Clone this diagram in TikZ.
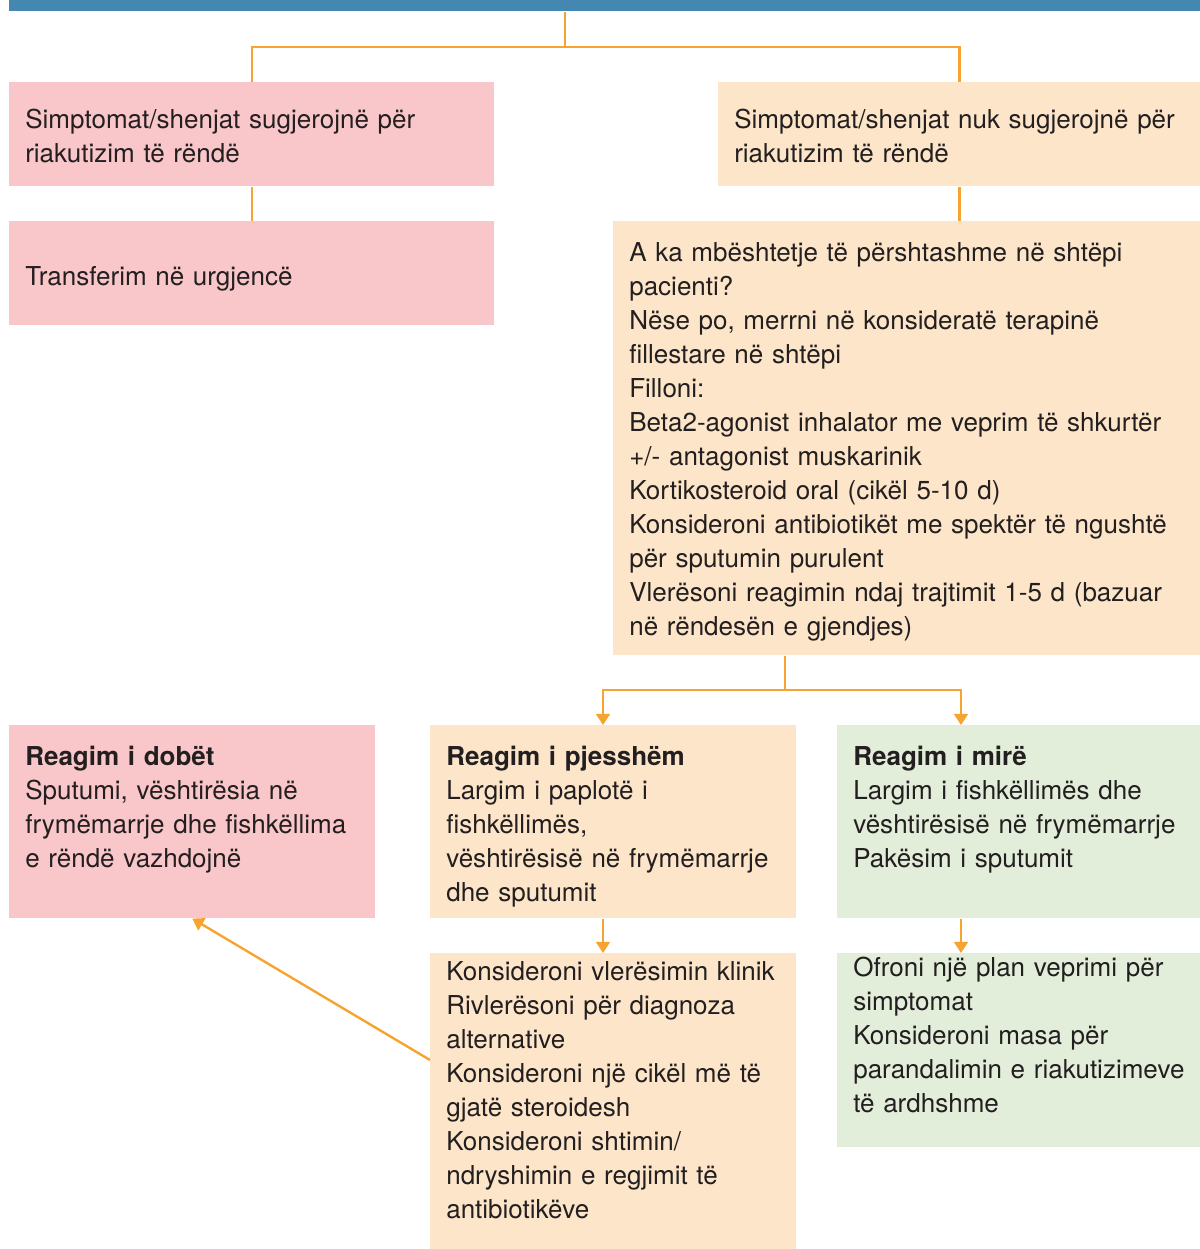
\documentclass[tikz,border=0pt]{standalone}
\usepackage{fontspec}
\setmainfont{TeX Gyre Heros}
\usetikzlibrary{arrows.meta,calc}
\definecolor{barblue}{HTML}{4488B2}
\definecolor{severepink}{HTML}{F9C6C9}
\definecolor{mildpeach}{HTML}{FCE5C8}
\definecolor{goodgreen}{HTML}{E2EED9}
\definecolor{linkorange}{HTML}{F7A32F}
\definecolor{textdark}{HTML}{231F20}
\newcommand\boxfont{\fontsize{18.5}{24.2}\selectfont\hyphenpenalty=10000}

\begin{document}
\begin{tikzpicture}[
  x=0.025cm,y=-0.025cm,
  link/.style={draw=linkorange,line width=1.7pt},
  flow/.style={link,-{Triangle[width=10pt,length=8pt]}},
  ]
  \useasboundingbox (0,0) rectangle (1200,1249);
  \node[fill=barblue,anchor=north west,inner sep=0,
    minimum width=29.775cm,minimum height=0.275cm] (bar) at (9,0) {};
  \begin{scope}[
    every node/.style={
      anchor=north west,
      align=left,
      inner xsep=0.4cm,
      inner ysep=0pt,
      font=\boxfont,
      text=textdark,
    },
    ]
    \node[fill=severepink,text width=11.325cm,text height=1.15cm,text depth=1.45cm]
      (severe) at (9,82) {Simptomat/shenjat sugjerojnë për\\riakutizim të rëndë};
    \node[fill=mildpeach,text width=11.25cm,text height=1.15cm,text depth=1.45cm]
      (mild) at (718,82) {Simptomat/shenjat nuk sugjerojnë për\\riakutizim të rëndë};
    \node[fill=severepink,text width=11.325cm,text height=1.6cm,text depth=1.0cm]
      (transfer) at (9,221) {Transferim në urgjencë};
    \node[fill=mildpeach,text width=13.875cm,text height=1.0cm,text depth=9.85cm]
      (homecare) at (613,221) {A ka mbështetje të përshtashme në shtëpi\\
        pacienti?\\
        Nëse po, merrni në konsideratë terapinë\\
        fillestare në shtëpi\\
        Filloni:\\
        Beta2-agonist inhalator me veprim të shkurtër\\
        +/- antagonist muskarinik\\
        Kortikosteroid oral (cikël 5-10 d)\\
        Konsideroni antibiotikët me spektër të ngushtë\\
        për sputumin purulent\\
        Vlerësoni reagimin ndaj trajtimit 1-5 d (bazuar\\
        në rëndesën e gjendjes)};
    \node[fill=severepink,text width=8.35cm,text height=1.0cm,text depth=3.825cm]
      (poor) at (9,725) {\textbf{Reagim i dobët}\\Sputumi, vështirësia në\\
        frymëmarrje dhe fishkëllima\\e rëndë vazhdojnë};
    \node[fill=mildpeach,text width=8.35cm,text height=1.0cm,text depth=3.825cm]
      (partial) at (430,725) {\textbf{Reagim i pjesshëm}\\Largim i paplotë i\\
        fishkëllimës,\\vështirësisë në frymëmarrje\\dhe sputumit};
    \node[fill=goodgreen,text width=8.4cm,text height=1.0cm,text depth=3.825cm]
      (good) at (837,725) {\textbf{Reagim i mirë}\\Largim i fishkëllimës dhe\\
        vështirësisë në frymëmarrje\\Pakësim i sputumit};
    \node[fill=mildpeach,text width=8.35cm,text height=0.675cm,text depth=6.725cm]
      (review) at (430,953) {Konsideroni vlerësimin klinik\\Rivlerësoni për diagnoza\\
        alternative\\Konsideroni një cikël më të\\gjatë steroidesh\\
        Konsideroni shtimin/\\ndryshimin e regjimit të\\antibiotikëve};
    \node[fill=goodgreen,text width=8.4cm,text height=0.575cm,text depth=4.275cm]
      (plan) at (837,953) {Ofroni një plan veprimi për\\simptomat\\Konsideroni masa për\\
        parandalimin e riakutizimeve\\të ardhshme};
  \end{scope}
  % split points of the branches
  \coordinate (topsplit) at (565,47);
  \coordinate (respsplit) at (785,690);
  \coordinate (leftcol) at (603,0);
  \coordinate (rightcol) at (961,0);
  \draw[link] (topsplit |- bar.south) -- (topsplit);
  \draw[link] (severe.north) |- (topsplit) -| (mild.north);
  \draw[link] (severe) -- (transfer);
  \draw[link] (mild.south) -- (mild.south |- homecare.north);
  \draw[link] (respsplit |- homecare.south) -- (respsplit);
  \draw[flow] (respsplit) -| (partial.north -| leftcol);
  \draw[flow] (respsplit) -| (good.north -| rightcol);
  \draw[flow] (partial.south -| leftcol) -- (review.north -| leftcol);
  \draw[flow] (good.south -| rightcol) -- (plan.north -| rightcol);
  \draw[flow] ($(review.north west)+(0,107)$) -- (poor.south);
\end{tikzpicture}
\end{document}
